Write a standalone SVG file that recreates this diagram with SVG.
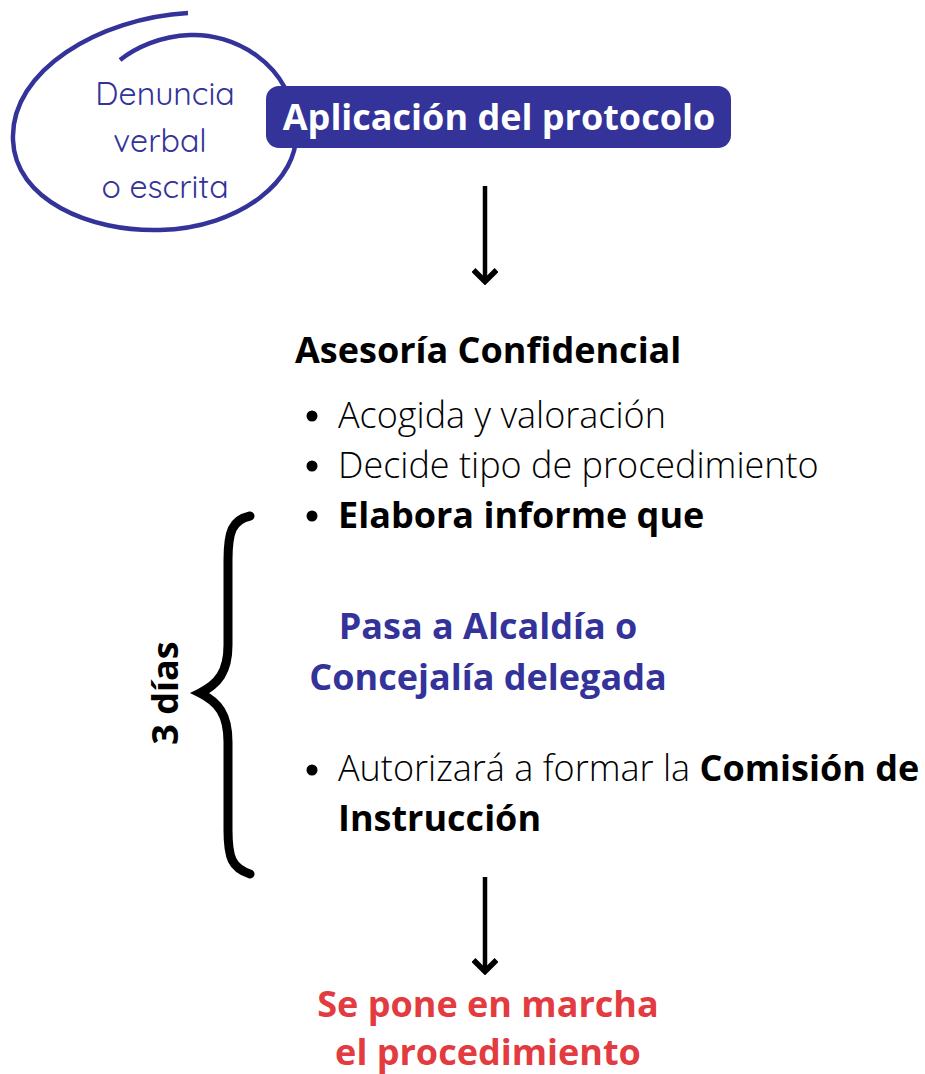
<svg xmlns="http://www.w3.org/2000/svg" width="925" height="1074" viewBox="0 0 925 1074">
<style>
.os{font-family:"Open Sans","Liberation Sans",sans-serif}
.b{font-weight:700}
.l{font-weight:300}
.blk{fill:#000}
.blu{fill:#333399}
.red{fill:#e23b40}
.q{font-family:"Quicksand","Lato","Noto Sans",sans-serif;font-weight:400;fill:#333399;font-size:32px}
</style>
<defs>
<marker id="ah" viewBox="0 0 20 26" refX="17" refY="13" markerWidth="20" markerHeight="26" markerUnits="userSpaceOnUse" orient="auto">
<path d="M5,1.5 L16.5,13 L5,24.5" fill="none" stroke="#000" stroke-width="5.5"/>
</marker>
</defs>
<rect width="925" height="1074" fill="#fff"/>
<g id="denuncia">
<path d="M188,13 C100,18 10,70 13,140 C15,200 90,232 160,230 C240,228 300,180 296,130 C292,60 230,33 190,35 C160,36 135,48 120,60" fill="none" stroke="#333399" stroke-width="4.5"/>
<text class="q" x="165" y="105" text-anchor="middle">Denuncia</text>
<text class="q" x="160" y="152" text-anchor="middle">verbal</text>
<text class="q" x="165" y="198" text-anchor="middle">o escrita</text>
</g>
<g id="aplicacion">
<rect x="266" y="86" width="465" height="62" rx="13" fill="#333399"/>
<text class="os b" x="499" y="130" text-anchor="middle" font-size="36" fill="#fff">Aplicación del protocolo</text>
</g>
<g id="connectors" stroke="#000" stroke-width="4.5" fill="none">
<line x1="485" y1="186" x2="485" y2="282" marker-end="url(#ah)"/>
<line x1="485" y1="877" x2="485" y2="972" marker-end="url(#ah)"/>
</g>
<g id="asesoria">
<text class="os b blk" x="295" y="363" font-size="36">Asesoría Confidencial</text>
<circle cx="312" cy="416" r="5.5"/>
<text class="os l blk" x="338" y="428" font-size="36">Acogida y valoración</text>
<circle cx="312" cy="466" r="5.5"/>
<text class="os l blk" x="338" y="478" font-size="36">Decide tipo de procedimiento</text>
<circle cx="312" cy="516" r="5.5"/>
<text class="os b blk" x="338" y="528" font-size="36">Elabora informe que</text>
</g>
<g id="alcaldia">
<text class="os b blu" x="488" y="639" text-anchor="middle" font-size="36">Pasa a Alcaldía o</text>
<text class="os b blu" x="488" y="690" text-anchor="middle" font-size="36">Concejalía delegada</text>
</g>
<g id="autoriza">
<circle cx="312" cy="770" r="5.5"/>
<text class="os blk" x="338" y="781" font-size="36"><tspan class="l">Autorizará a formar la </tspan><tspan class="b">Comisión de</tspan></text>
<text class="os b blk" x="338" y="831" font-size="36">Instrucción</text>
</g>
<g id="plazo">
<path d="M250,516 C232,520 228,532 228,560 L228,645 C228,672 218,684 200,693 C218,702 228,714 228,742 L228,830 C228,858 232,868 250,874" fill="none" stroke="#000" stroke-width="9" stroke-linecap="round"/>
<text class="os b blk" transform="translate(178,693) rotate(-90)" text-anchor="middle" font-size="36">3 días</text>
</g>
<g id="procedimiento">
<text class="os b red" x="488" y="1017" text-anchor="middle" font-size="36">Se pone en marcha</text>
<text class="os b red" x="488" y="1065" text-anchor="middle" font-size="36">el procedimiento</text>
</g>
</svg>
